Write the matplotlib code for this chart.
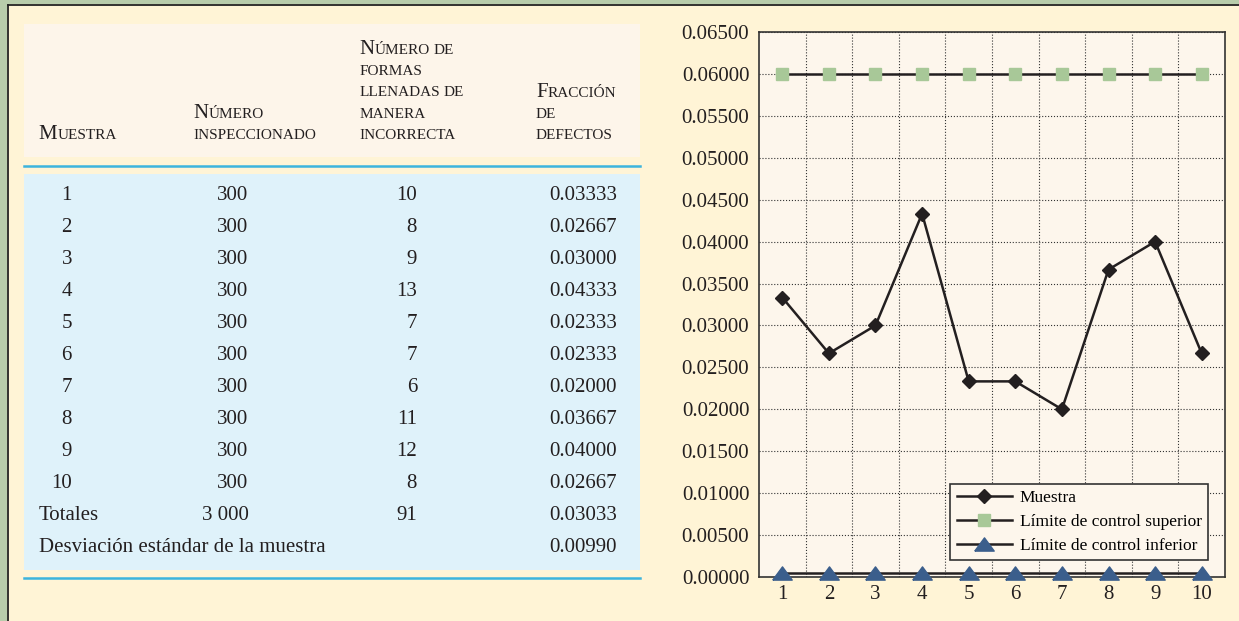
import numpy as np
import matplotlib
matplotlib.use("Agg")
import matplotlib.pyplot as plt
from matplotlib.patches import Rectangle

plt.rcParams['font.family'] = ['Liberation Serif', 'DejaVu Serif']

# datos de la tabla
muestras = [1, 2, 3, 4, 5, 6, 7, 8, 9, 10]
inspeccionado = [300, 300, 300, 300, 300, 300, 300, 300, 300, 300]
incorrectas = [10, 8, 9, 13, 7, 7, 6, 11, 12, 8]
fraccion = [0.03333, 0.02667, 0.03000, 0.04333, 0.02333,
            0.02333, 0.02000, 0.03667, 0.04000, 0.02667]
total_insp = "3 000"
total_incorrectas = 91
total_fraccion = 0.03033
desviacion = 0.00990

# limites de control
lim_sup = [0.06, 0.06, 0.06, 0.06, 0.06, 0.06, 0.06, 0.06, 0.06, 0.06]
lim_inf = [0.0005, 0.0005, 0.0005, 0.0005, 0.0005,
           0.0005, 0.0005, 0.0005, 0.0005, 0.0005]

W, H = 1239, 621
crema = '#FFF4D6'
txt = '#231F20'

fig = plt.figure(figsize=(W / 100, H / 100), dpi=100, facecolor=crema)
renderer = fig.canvas.get_renderer()

# eje de fondo en pixeles para la tabla
ax_t = fig.add_axes([0, 0, 1, 1])
ax_t.set_xlim(0, W)
ax_t.set_ylim(H, 0)
ax_t.axis('off')

# franja verde y borde
ax_t.add_patch(Rectangle((0, 0), 7, H, color='#B8CCAB', lw=0))
ax_t.add_patch(Rectangle((0, 0), W, 4, color='#B8CCAB', lw=0))
ax_t.plot([7.5, 7.5], [4.5, H], color='#222222', lw=1.3)
ax_t.plot([7.5, W], [4.5, 4.5], color='#222222', lw=1.3)

# bloques de la tabla
ax_t.add_patch(Rectangle((24, 24), 616, 133, color='#FDF5EA', lw=0))
ax_t.add_patch(Rectangle((24, 174), 616, 396, color='#DFF2FA', lw=0))
ax_t.plot([24, 640], [165.7, 165.7], color='#3CB4DD', lw=1.8)
ax_t.plot([24, 640], [578, 578], color='#3CB4DD', lw=1.8)


# versalitas: mayusculas grandes, el resto en mayusculas chicas
def versalitas(x, y, s, big=15, small=11):
    sp = 0.25 * small / 72 * 100
    for palabra in s.split(' '):
        runs = []
        for ch in palabra:
            grande = ch.isupper()
            if runs and runs[-1][1] == grande:
                runs[-1][0] += ch
            else:
                runs.append([ch, grande])
        for texto, grande in runs:
            t = ax_t.text(x, y, texto.upper(), fontsize=big if grande else small,
                          color=txt, va='baseline', ha='left')
            x += t.get_window_extent(renderer).width
        x += sp


versalitas(38.7, 139, "Muestra")
versalitas(193.6, 118, "Número")
versalitas(193.6, 139, "inspeccionado")
for i, linea in enumerate(["Número de", "formas", "llenadas de", "manera", "incorrecta"]):
    versalitas(359.3, 54 + 21.25 * i, linea)
for i, linea in enumerate(["Fracción", "de", "defectos"]):
    versalitas(536, 97 + 21 * i, linea)

# filas
fs = 15
for i in range(len(muestras)):
    yb = 200 + 32 * i
    ax_t.text(72, yb, str(muestras[i]), fontsize=fs, color=txt, ha='right', va='baseline')
    ax_t.text(248.5, yb, str(inspeccionado[i]), fontsize=fs, color=txt, ha='right', va='baseline')
    ax_t.text(417, yb, str(incorrectas[i]), fontsize=fs, color=txt, ha='right', va='baseline')
    ax_t.text(617, yb, f"{fraccion[i]:.5f}", fontsize=fs, color=txt, ha='right', va='baseline')

yb = 200 + 32 * 10
ax_t.text(38.7, yb, "Totales", fontsize=fs, color=txt, ha='left', va='baseline')
ax_t.text(248.5, yb, total_insp, fontsize=fs, color=txt, ha='right', va='baseline')
ax_t.text(417, yb, str(total_incorrectas), fontsize=fs, color=txt, ha='right', va='baseline')
ax_t.text(617, yb, f"{total_fraccion:.5f}", fontsize=fs, color=txt, ha='right', va='baseline')
yb = 200 + 32 * 11
ax_t.text(38.7, yb, "Desviación estándar de la muestra", fontsize=fs, color=txt,
          ha='left', va='baseline')
ax_t.text(617, yb, f"{desviacion:.5f}", fontsize=fs, color=txt, ha='right', va='baseline')

# grafico de control
ax = fig.add_axes([759 / W, (H - 577) / H, 466 / W, 545 / H])
ax.set_facecolor('#FDF6EC')
ax.plot(muestras, fraccion, color=txt, lw=1.8, marker='D', ms=7.5,
        label='Muestra', clip_on=False, zorder=3)
ax.plot(muestras, lim_sup, color=txt, lw=1.8, marker='s', ms=8.5, mfc='#A8C898',
        mec='#A8C898', label='Límite de control superior', clip_on=False, zorder=3)
tri = [(-1, -0.68), (1, -0.68), (0, 0.68), (-1, -0.68)]
ax.plot(muestras, lim_inf, color=txt, lw=1.8, marker=tri, ms=14, mfc='#3B5E8C',
        mec='#3B5E8C', label='Límite de control inferior', clip_on=False, zorder=3)

ax.set_xlim(0.5, 10.5)
ax.set_ylim(0, 0.065)
ax.set_xticks(muestras)
ax.set_xticks(np.arange(1.5, 10, 1), minor=True)
ax.set_yticks(np.arange(0, 0.0651, 0.005))
ax.set_yticklabels([f"{v:.5f}" for v in np.arange(0, 0.0651, 0.005)])
ax.tick_params(axis='both', which='both', length=0, labelsize=15, labelcolor=txt)
ax.tick_params(axis='y', pad=7)
ax.tick_params(axis='x', pad=6)
ax.grid(True, which='major', axis='y', ls=':', color='#333333', lw=0.8)
ax.grid(True, which='minor', axis='x', ls=':', color='#333333', lw=0.8)
ax.set_axisbelow(True)
for s in ax.spines.values():
    s.set_color('#333333')
    s.set_linewidth(1.2)

leg = ax.legend(loc='lower right', bbox_to_anchor=(0.9635, 0.0312), borderaxespad=0,
                fontsize=12.5, handlelength=3.2, handletextpad=0.45, borderpad=0.35,
                labelspacing=0.45, fancybox=False, framealpha=1,
                facecolor='#FDF6EC', edgecolor='#333333')
leg.get_frame().set_linewidth(1.2)

fig.savefig('out.png', dpi=100, facecolor=crema)
